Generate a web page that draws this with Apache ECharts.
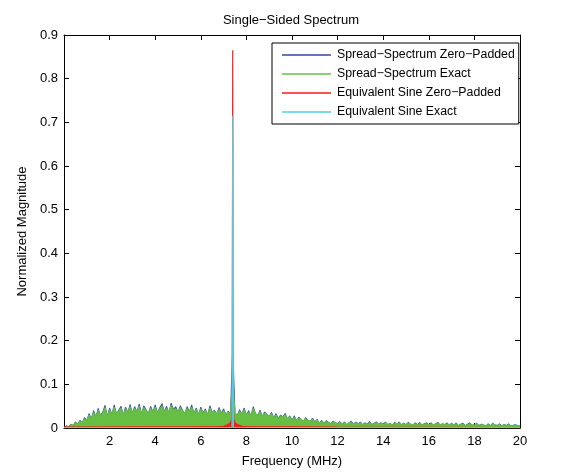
<!DOCTYPE html>
<html>
<head>
<meta charset="utf-8">
<script src="https://cdn.jsdelivr.net/npm/echarts@6/dist/echarts.min.js"></script>
<style>
html,body{margin:0;padding:0;background:#fff;}
#chart{width:582px;height:473px;}
</style>
</head>
<body>
<div id="chart"></div>
<script>
// Frequency grid for the spread-spectrum traces (MHz), 0.1 MHz bins from 0 to 20
var freqStart = 0;
var freqStep = 0.1;

// Spread-Spectrum Zero-Padded (blue) magnitudes, in thousandths
var ssZeroPadded = [
  0,5,3,9,6,14,9,18,13,24,
  18,33,22,40,26,45,29,37,52,27,
  46,31,53,33,41,50,30,48,36,54,
  34,49,38,55,32,51,42,33,50,37,
  53,35,47,56,38,50,34,57,43,49,
  36,51,41,33,49,38,53,34,46,31,
  48,35,44,30,51,36,41,32,47,34,
  44,31,39,33,190,35,29,42,32,46,
  30,40,28,49,33,29,41,27,37,31,
  27,36,24,33,22,30,25,34,21,28,
  19,28,17,25,20,16,24,18,15,23,
  14,20,12,18,11,17,13,10,16,12,
  10,15,9,14,8,12,16,9,14,10,
  14,8,12,9,15,8,11,14,9,12,
  9,14,8,11,7,13,9,14,8,11,
  8,13,9,7,12,8,13,7,10,12,
  8,12,7,10,13,7,10,8,12,7,
  11,7,12,6,9,11,6,9,12,7,
  7,11,6,9,7,5,10,6,11,7,
  6,10,5,8,6,10,5,6,8,5,
  5
];

// Spread-Spectrum Exact (green) magnitudes, in thousandths
var ssExact = [
  0,4,3,8,6,12,9,16,13,21,
  18,30,22,36,26,41,29,35,47,27,
  42,31,48,33,39,46,30,44,36,49,
  34,45,38,50,32,47,40,33,46,37,
  48,35,44,51,38,46,34,52,41,45,
  36,47,40,33,45,38,48,34,43,31,
  44,35,41,30,46,36,39,32,43,34,
  40,31,37,33,110,35,29,39,32,42,
  30,37,28,45,33,29,38,27,34,31,
  27,33,24,30,22,28,25,31,21,26,
  19,25,17,23,20,16,22,18,15,21,
  14,18,12,16,11,15,13,10,14,12,
  10,13,9,12,8,11,14,9,12,10,
  12,8,11,9,13,8,10,12,9,11,
  9,12,8,10,7,11,9,12,8,10,
  8,11,9,7,10,8,11,7,9,10,
  8,10,7,9,11,7,9,8,10,7,
  9,7,10,6,8,9,6,8,10,7,
  7,9,6,8,7,5,8,6,9,7,
  6,8,5,7,6,8,5,6,7,5,
  5
];

// Equivalent Sine Zero-Padded (red)
var sineZpFreq = [0, 6.8, 7.0, 7.1, 7.2, 7.3, 7.35, 7.38, 7.4, 7.42, 7.45, 7.5, 7.6, 7.7, 7.8, 8.0, 12, 20];
var sineZpMag  = [0.002, 0.003, 0.004, 0.006, 0.008, 0.012, 0.02, 0.05, 0.865, 0.05, 0.02, 0.012, 0.008, 0.006, 0.004, 0.003, 0.002, 0.001];

// Equivalent Sine Exact (cyan)
var sineExFreq = [0, 7.37, 7.4, 7.43, 20];
var sineExMag  = [0.001, 0.001, 0.715, 0.001, 0.001];

// Axis ticks
var yTicks = [0, 0.1, 0.2, 0.3, 0.4, 0.5, 0.6, 0.7, 0.8, 0.9];
var xTicks = [2, 4, 6, 8, 10, 12, 14, 16, 18, 20];

var seriesNames = [
  'Spread\u2212Spectrum Zero\u2212Padded',
  'Spread\u2212Spectrum Exact',
  'Equivalent Sine Zero\u2212Padded',
  'Equivalent Sine Exact'
];
var colors = ['#2a4aa8', '#66bf42', '#ff1a1a', '#4fd0e2'];

function gridPairs(arr) {
  return arr.map(function (v, i) {
    return [+(freqStart + i * freqStep).toFixed(2), v / 1000];
  });
}
function zipPairs(xs, ys) {
  return xs.map(function (x, i) { return [x, ys[i]]; });
}

var font = 'Liberation Sans, Arial, Helvetica, sans-serif';
var chart = echarts.init(document.getElementById('chart'), null, {renderer: 'canvas'});

function axisBase() {
  return {
    axisLine: {show: true, onZero: false, lineStyle: {color: '#000', width: 1}},
    axisTick: {show: true, inside: true, length: 5, lineStyle: {color: '#000'}},
    splitLine: {show: false}
  };
}

var option = {
  animation: false,
  backgroundColor: '#fff',
  color: colors,
  title: {
    text: 'Single\u2212Sided Spectrum',
    left: 'center',
    top: 9,
    textStyle: {fontFamily: font, fontSize: 13, fontWeight: 'normal', color: '#000'}
  },
  grid: {left: 64, right: 62, top: 35, bottom: 40, show: false},
  legend: {
    data: seriesNames,
    orient: 'vertical',
    left: 272,
    top: 43,
    itemWidth: 49,
    itemHeight: 1.5,
    itemGap: 7,
    icon: 'rect',
    padding: [6, 4, 6, 10],
    borderColor: '#000',
    borderWidth: 1,
    backgroundColor: '#fff',
    textStyle: {fontFamily: font, fontSize: 12.3, lineHeight: 12, color: '#000', padding: [0, 0, 0, 1]},
    selectedMode: false
  },
  xAxis: [
    Object.assign(axisBase(), {
      type: 'value', min: 0, max: 20, interval: 2, position: 'bottom',
      name: 'Frequency (MHz)', nameLocation: 'middle', nameGap: 27,
      nameTextStyle: {fontFamily: font, fontSize: 13, color: '#000'},
      axisLabel: {
        fontFamily: font, fontSize: 13, color: '#000', margin: 7,
        formatter: function (v) { return xTicks.indexOf(v) >= 0 ? String(v) : ''; }
      }
    }),
    Object.assign(axisBase(), {
      type: 'value', min: 0, max: 20, interval: 2, position: 'top',
      axisLabel: {show: false}
    })
  ],
  yAxis: [
    Object.assign(axisBase(), {
      type: 'value', min: 0, max: 0.9, interval: 0.1, position: 'left',
      name: 'Normalized Magnitude', nameLocation: 'middle', nameGap: 34,
      nameTextStyle: {fontFamily: font, fontSize: 13, color: '#000'},
      axisLabel: {
        fontFamily: font, fontSize: 13, color: '#000', margin: 6,
        formatter: function (v) {
          var r = Math.round(v * 10) / 10;
          return yTicks.indexOf(r) >= 0 ? String(r) : '';
        }
      }
    }),
    Object.assign(axisBase(), {
      type: 'value', min: 0, max: 0.9, interval: 0.1, position: 'right',
      axisLabel: {show: false}
    })
  ],
  series: [
    {
      name: seriesNames[0], type: 'line', showSymbol: false, symbol: 'none',
      data: gridPairs(ssZeroPadded),
      lineStyle: {color: colors[0], width: 0.8},
      areaStyle: {color: colors[0], opacity: 1},
      z: 2
    },
    {
      name: seriesNames[1], type: 'line', showSymbol: false, symbol: 'none',
      data: gridPairs(ssExact),
      lineStyle: {color: colors[1], width: 1},
      areaStyle: {color: colors[1], opacity: 1},
      z: 3
    },
    {
      name: seriesNames[2], type: 'line', showSymbol: false, symbol: 'none',
      data: zipPairs(sineZpFreq, sineZpMag),
      lineStyle: {color: colors[2], width: 1.2},
      areaStyle: {color: colors[2], opacity: 1},
      z: 4
    },
    {
      name: seriesNames[3], type: 'line', showSymbol: false, symbol: 'none',
      data: zipPairs(sineExFreq, sineExMag),
      lineStyle: {color: colors[3], width: 1.2},
      z: 5
    }
  ]
};
chart.setOption(option);
</script>
</body>
</html>
